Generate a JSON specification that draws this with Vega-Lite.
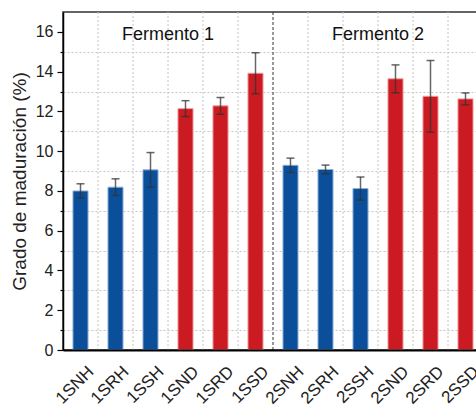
{
  "$schema": "https://vega.github.io/schema/vega-lite/v6.json",
  "width": 414,
  "height": 338,
  "autosize": {"type": "none"},
  "padding": {"left": 63, "top": 12, "right": 0, "bottom": 57},
  "background": "white",
  "config": {
    "font": "Liberation Sans",
    "view": {"stroke": "#333333", "strokeWidth": 1.5}
  },
  "datasets": {
    "bars": [
      {"name": "1SNH", "tipo": "H", "value": 8.0, "err": 0.36},
      {"name": "1SRH", "tipo": "H", "value": 8.19, "err": 0.42},
      {"name": "1SSH", "tipo": "H", "value": 9.06, "err": 0.87},
      {"name": "1SND", "tipo": "D", "value": 12.14, "err": 0.4},
      {"name": "1SRD", "tipo": "D", "value": 12.28, "err": 0.42},
      {"name": "1SSD", "tipo": "D", "value": 13.92, "err": 1.03},
      {"name": "2SNH", "tipo": "H", "value": 9.29, "err": 0.36},
      {"name": "2SRH", "tipo": "H", "value": 9.08, "err": 0.22},
      {"name": "2SSH", "tipo": "H", "value": 8.12, "err": 0.58},
      {"name": "2SND", "tipo": "D", "value": 13.64, "err": 0.7},
      {"name": "2SRD", "tipo": "D", "value": 12.76, "err": 1.8},
      {"name": "2SSD", "tipo": "D", "value": 12.63, "err": 0.3}
    ],
    "grid": [
      {"name": "1SRH", "kind": "grid"},
      {"name": "1SSH", "kind": "grid"},
      {"name": "1SND", "kind": "grid"},
      {"name": "1SRD", "kind": "grid"},
      {"name": "1SSD", "kind": "grid"},
      {"name": "2SNH", "kind": "sep"},
      {"name": "2SRH", "kind": "grid"},
      {"name": "2SSH", "kind": "grid"},
      {"name": "2SND", "kind": "grid"},
      {"name": "2SRD", "kind": "grid"},
      {"name": "2SSD", "kind": "grid"}
    ],
    "titles": [
      {"name": "1SND", "value": 15.85, "label": "Fermento 1"},
      {"name": "2SND", "value": 15.85, "label": "Fermento 2"}
    ]
  },
  "resolve": {"scale": {"color": "independent", "stroke": "independent", "strokeDash": "independent"}},
  "encoding": {
    "x": {"field": "name", "type": "nominal", "sort": null, "title": null,
      "scale": {"domain": ["1SNH","1SRH","1SSH","1SND","1SRD","1SSD","2SNH","2SRH","2SSH","2SND","2SRD","2SSD"], "range": [0, 420], "paddingInner": 0, "paddingOuter": 0},
      "axis": {"labelAngle": -45, "labelAlign": "right", "labelBaseline": "top", "ticks": false,
        "domainColor": "#000000", "domainWidth": 2, "labelFontSize": 17, "labelColor": "#222222",
        "labelOffset": 5, "labelPadding": 13, "grid": false, "zindex": 1}}
  },
  "layer": [
    {
      "data": {"name": "grid"},
      "mark": {"type": "rule", "strokeWidth": 1},
      "encoding": {
        "x": {"field": "name", "type": "nominal", "sort": null, "title": null, "bandPosition": 0},
        "stroke": {"field": "kind", "type": "nominal", "legend": null,
          "scale": {"domain": ["grid", "sep"], "range": ["#c4c4c4", "#333333"]}},
        "strokeDash": {"field": "kind", "type": "nominal", "legend": null,
          "scale": {"domain": ["grid", "sep"], "range": [[2, 2], [3, 2]]}}
      }
    },
    {
      "data": {"name": "bars"},
      "mark": {"type": "bar", "strokeWidth": 1, "width": {"band": 0.43}},
      "encoding": {
        "y": {"field": "value", "type": "quantitative", "title": "Grado de maduración (%)",
          "scale": {"domain": [0, 17], "nice": false, "zero": true},
          "axis": {"values": [0,1,2,3,4,5,6,7,8,9,10,11,12,13,14,15,16],
            "labelExpr": "datum.value % 2 == 0 ? datum.label : ''",
            "tickSize": {"condition": {"test": "datum.value % 2 == 1", "value": 3}, "value": 6},
            "tickColor": "#000000", "tickWidth": 1.2,
            "grid": true, "gridColor": "#c4c4c4", "gridDash": [2, 2], "gridWidth": 1,
            "gridOpacity": {"condition": {"test": "datum.value % 2 == 1", "value": 1}, "value": 0},
            "domainColor": "#000000", "domainWidth": 1.5,
            "labelFontSize": 16, "labelColor": "#222222", "labelPadding": 4,
            "titleFontSize": 19, "titleFontWeight": "normal",
            "titleColor": "#222222", "titlePadding": 6, "zindex": 0}},
        "color": {"field": "tipo", "type": "nominal", "legend": null,
          "scale": {"domain": ["H", "D"], "range": ["#0B4F9B", "#CB1A21"]}},
        "stroke": {"field": "tipo", "type": "nominal", "legend": null,
          "scale": {"domain": ["H", "D"], "range": ["#8FB0DA", "#EE9A9C"]}}
      }
    },
    {
      "data": {"name": "bars"},
      "mark": {"type": "errorbar", "ticks": true, "size": 8, "thickness": 1.5, "color": "#333333", "opacity": 0.75},
      "encoding": {
        "y": {"field": "value", "type": "quantitative", "title": "Grado de maduración (%)",
          "scale": {"domain": [0, 17], "nice": false, "zero": true},
          "axis": {"values": [0,1,2,3,4,5,6,7,8,9,10,11,12,13,14,15,16],
            "labelExpr": "datum.value % 2 == 0 ? datum.label : ''",
            "tickSize": {"condition": {"test": "datum.value % 2 == 1", "value": 3}, "value": 6},
            "tickColor": "#000000", "tickWidth": 1.2,
            "grid": true, "gridColor": "#c4c4c4", "gridDash": [2, 2], "gridWidth": 1,
            "gridOpacity": {"condition": {"test": "datum.value % 2 == 1", "value": 1}, "value": 0},
            "domainColor": "#000000", "domainWidth": 1.5,
            "labelFontSize": 16, "labelColor": "#222222", "labelPadding": 4,
            "titleFontSize": 19, "titleFontWeight": "normal",
            "titleColor": "#222222", "titlePadding": 6, "zindex": 0}},
        "yError": {"field": "err"}
      }
    },
    {
      "data": {"name": "titles"},
      "mark": {"type": "text", "fontSize": 18, "align": "center", "baseline": "middle", "color": "#111111"},
      "encoding": {
        "x": {"field": "name", "type": "nominal", "sort": null, "title": null, "bandPosition": 0},
        "y": {"field": "value", "type": "quantitative", "title": "Grado de maduración (%)",
          "scale": {"domain": [0, 17], "nice": false, "zero": true},
          "axis": {"values": [0,1,2,3,4,5,6,7,8,9,10,11,12,13,14,15,16],
            "labelExpr": "datum.value % 2 == 0 ? datum.label : ''",
            "tickSize": {"condition": {"test": "datum.value % 2 == 1", "value": 3}, "value": 6},
            "tickColor": "#000000", "tickWidth": 1.2,
            "grid": true, "gridColor": "#c4c4c4", "gridDash": [2, 2], "gridWidth": 1,
            "gridOpacity": {"condition": {"test": "datum.value % 2 == 1", "value": 1}, "value": 0},
            "domainColor": "#000000", "domainWidth": 1.5,
            "labelFontSize": 16, "labelColor": "#222222", "labelPadding": 4,
            "titleFontSize": 19, "titleFontWeight": "normal",
            "titleColor": "#222222", "titlePadding": 6, "zindex": 0}},
        "text": {"field": "label"}
      }
    }
  ]
}
